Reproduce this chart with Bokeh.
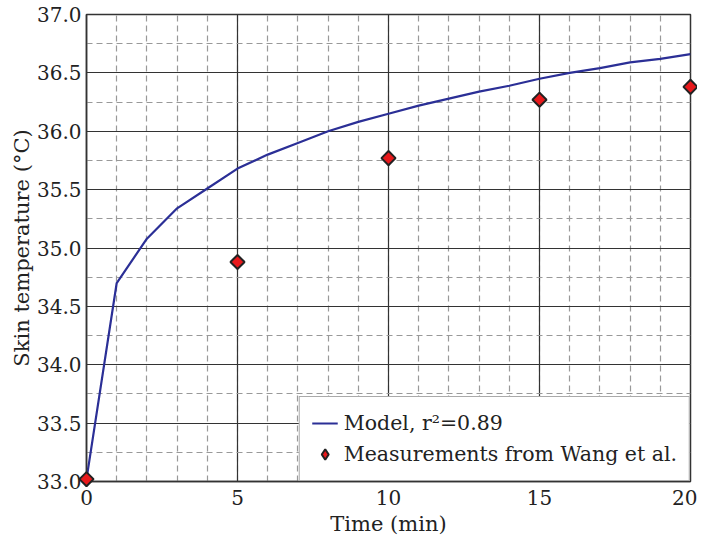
import math
from bokeh.plotting import figure
from bokeh.models import SingleIntervalTicker, Range1d, Legend, LegendItem, NumeralTickFormatter
from bokeh.embed import file_html
from bokeh.resources import INLINE

# Model curve (one point per minute)
model_t = list(range(0, 21))
model_temp = [33.02, 34.70, 35.08, 35.34, 35.51, 35.68, 35.80, 35.90, 36.00, 36.08,
              36.15, 36.22, 36.28, 36.34, 36.39, 36.45, 36.50, 36.54, 36.59, 36.62, 36.66]

# Measurements from Wang et al.
meas_t = [0, 5, 10, 15, 20]
meas_temp = [33.02, 34.88, 35.77, 36.27, 36.38]

model_label = "Model, r²=0.89"
meas_label = "Measurements from Wang et al."
x_label = "Time (min)"
y_label = "Skin temperature (°C)"

FONT = "DejaVu Serif"
FS = "20px"
FS_LAB = "21px"
FS_LEG = "20.5px"
TXT = "#222222"

p = figure(width=697, height=538,
           min_border_left=86, min_border_top=14, min_border_right=7, min_border_bottom=55,
           x_range=Range1d(0, 20), y_range=Range1d(33.0, 37.0),
           output_backend="svg", toolbar_location=None)

p.xaxis.ticker = SingleIntervalTicker(interval=5, num_minor_ticks=5)
p.yaxis.ticker = SingleIntervalTicker(interval=0.5, num_minor_ticks=2)
p.yaxis.formatter = NumeralTickFormatter(format="0.0")

for ax in (p.xaxis[0], p.yaxis[0]):
    ax.major_tick_in = 0
    ax.major_tick_out = 0
    ax.minor_tick_in = 0
    ax.minor_tick_out = 0
    ax.axis_line_color = "#333333"
    ax.axis_line_width = 1.5
    ax.major_label_text_font = FONT
    ax.major_label_text_font_size = FS
    ax.major_label_text_color = TXT
    ax.axis_label_text_font = FONT
    ax.axis_label_text_font_size = FS_LAB
    ax.axis_label_text_font_style = "normal"
    ax.axis_label_text_color = TXT

p.xaxis.axis_label = x_label
p.yaxis.axis_label = y_label
p.xaxis.major_label_standoff = 8
p.yaxis.major_label_standoff = 5
p.xaxis.axis_label_standoff = 4
p.yaxis.axis_label_standoff = 0

p.outline_line_color = "#333333"
p.outline_line_width = 1.5
p.outline_line_alpha = 1.0

for g in (p.xgrid[0], p.ygrid[0]):
    g.grid_line_color = "#333333"
    g.grid_line_width = 1.2
    g.grid_line_alpha = 1.0
    g.minor_grid_line_color = "#999999"
    g.minor_grid_line_width = 1.2
    g.minor_grid_line_dash = "6 4"

r_line = p.line(model_t, model_temp, line_color="#2b2f96", line_width=2.2)
# diamond used for the legend swatch (hidden under the rotated squares in the plot)
r_pts_leg = p.scatter(meas_t, meas_temp, marker="diamond", size=13, level="overlay",
                      fill_color="#e8191c", line_color="#222222", line_width=2)
r_pts = p.scatter(meas_t, meas_temp, marker="square", size=10, angle=math.pi / 4,
                  level="overlay",
                  fill_color="#e8191c", line_color="#222222", line_width=2)

legend = Legend(items=[LegendItem(label=model_label, renderers=[r_line]),
                       LegendItem(label=meas_label, renderers=[r_pts_leg])],
                location="bottom_right", margin=0, padding=12, spacing=3,
                label_text_font=FONT, label_text_font_size=FS_LEG, label_text_color=TXT,
                glyph_width=26, glyph_height=28, label_standoff=6,
                border_line_color="#555555", border_line_width=1.5,
                background_fill_color="white", background_fill_alpha=1.0)
p.add_layout(legend)

open("out.html", "w").write(file_html(p, INLINE))
